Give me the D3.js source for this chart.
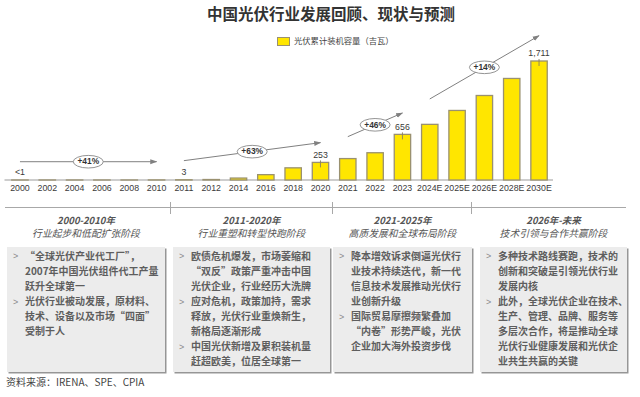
<!DOCTYPE html>
<html>
<head>
<meta charset="utf-8">
<script src="https://cdn.jsdelivr.net/npm/d3@7"></script>
<style>
body { margin:0; background:#fff; }
svg { display:block; font-family: "Liberation Sans", Arial, sans-serif; }
.cjk { font-family: "Noto Sans CJK SC", "Liberation Sans", sans-serif; }
</style>
</head>
<body>
<script>
// data
var years = ["2000","2002","2004","2006","2008","2010","2011","2012","2014","2016","2018","2020","2021","2022","2023","2024E","2025E","2026E","2028E","2030E"];
var capacity = [0.02,0.05,0.07,0.08,0.14,0.86,3,7,28,77,175,253,308,392,656,800,1000,1215,1460,1711];
var valueLabels = {"2000":"<1","2011":"3","2020":"253","2023":"656","2030E":"1,711"};

var growthLabels = ["+41%","+63%","+46%","+14%"];
var growthFrom = ["2000","2011","2021","2024E"];
var growthTo = ["2010","2020","2023","2030E"];
// arrow ends expressed on the value axis
var growthY0 = [263,278,623,1165];
var growthY1 = [263,537,964,2075];

var phaseYears = ["2000-2010年","2011-2020年","2021-2025年","2026年-未来"];
var phaseTitles = ["行业起步和低配扩张阶段","行业重塑和转型快跑阶段","高质发展和全球布局阶段","技术引领与合作共赢阶段"];
var phaseNotes = [
  [["“全球光伏产业代工厂”，","2007年中国光伏组件代工产量","跃升全球第一"],
   ["光伏行业被动发展，原材料、","技术、设备以及市场“四面”","受制于人"]],
  [["欧债危机爆发，市场萎缩和","“双反”政策严重冲击中国","光伏企业，行业经历大洗牌"],
   ["应对危机，政策加持，需求","释放，光伏行业重焕新生，","新格局逐渐形成"],
   ["中国光伏新增及累积装机量","赶超欧美，位居全球第一"]],
  [["降本增效诉求倒逼光伏行","业技术持续迭代，新一代","信息技术发展推动光伏行","业创新升级"],
   ["国际贸易摩擦频繁叠加","“内卷”形势严峻，光伏","企业加大海外投资步伐"]],
  [["多种技术路线赛跑，技术的","创新和突破是引领光伏行业","发展内核"],
   ["此外，全球光伏企业在技术、","生产、管理、品牌、服务等","多层次合作，将是推动全球","光伏行业健康发展和光伏企","业共生共赢的关键"]]
];

var W = 640, H = 397;
var yellow = "#ffe600", barStroke = "#9a9170", grey = "#808080";

var svg = d3.select("body").append("svg").attr("width", W).attr("height", H);

var defs = svg.append("defs");
defs.append("marker").attr("id","arr").attr("viewBox","0 0 10 10")
  .attr("refX",9).attr("refY",5).attr("markerWidth",7).attr("markerHeight",7)
  .attr("orient","auto")
  .append("path").attr("d","M0,1.5 L10,5 L0,8.5 Z").attr("fill",grey);
var sh = defs.append("filter").attr("id","shadow").attr("x","-5%").attr("y","-5%").attr("width","115%").attr("height","115%");
sh.append("feDropShadow").attr("dx",1.5).attr("dy",1.5).attr("stdDeviation",0.6).attr("flood-color","#8a8a8a").attr("flood-opacity",0.9);

// title + legend
svg.append("text").attr("class","cjk").attr("x",331).attr("y",16)
  .attr("text-anchor","middle").attr("dominant-baseline","middle")
  .attr("font-size",15.5).attr("font-weight","bold").attr("fill","#333")
  .text("中国光伏行业发展回顾、现状与预测");
svg.append("rect").attr("x",277.5).attr("y",37.5).attr("width",12).attr("height",8)
  .attr("fill",yellow).attr("stroke",barStroke);
svg.append("text").attr("class","cjk").attr("x",294).attr("y",42)
  .attr("dominant-baseline","middle").attr("font-size",8.3).attr("fill","#444")
  .text("光伏累计装机容量（吉瓦）");

// scales
var x = d3.scaleBand().domain(years).range([6.3, 552.7]).paddingInner(0.4).paddingOuter(0.2);
var y = d3.scaleLinear().domain([0, 1711]).range([180, 61]);

var chart = svg.append("g");

// axis first so the tiny bars sit on top of the baseline
var xAxis = d3.axisBottom(x).tickSize(0).tickPadding(5);
var ax = chart.append("g").attr("transform","translate(0,180)").call(xAxis);
ax.select(".domain").attr("d","M4.5,0H553").attr("stroke","#bdbdbd").attr("stroke-width",1.3);
ax.selectAll("text").attr("font-size",8.8).attr("fill","#3a3a3a")
  .attr("font-family","'Liberation Sans', Arial, sans-serif");

chart.selectAll("rect.bar").data(years).enter().append("rect")
  .attr("class","bar")
  .attr("x", function(d){ return x(d); })
  .attr("width", x.bandwidth())
  .attr("y", function(d,i){ return y(capacity[i]); })
  .attr("height", function(d,i){ return y(0) - y(capacity[i]); })
  .attr("fill", yellow).attr("stroke", barStroke).attr("stroke-width",1.3);

// value labels
var labelled = years.filter(function(d){ return valueLabels[d]; });
labelled.forEach(function(d){
  var i = years.indexOf(d), top = y(capacity[i]), cx = x(d) + x.bandwidth()/2;
  chart.append("text").attr("x",cx).attr("y",top - 7).attr("text-anchor","middle")
    .attr("dominant-baseline","middle").attr("font-size",8.8).attr("fill","#3a3a3a")
    .text(valueLabels[d]);
  if (y(0) - top > 10) {
    chart.append("line").attr("x1",cx).attr("x2",cx).attr("y1",top-2).attr("y2",top+5)
      .attr("stroke","#8a8060").attr("stroke-width",0.9);
  }
});

// growth arrows
growthLabels.forEach(function(lab, i){
  var x0 = x(growthFrom[i]) + x.bandwidth()/2, x1 = x(growthTo[i]) + x.bandwidth()/2;
  var y0 = y(growthY0[i]), y1 = y(growthY1[i]);
  chart.append("line").attr("x1",x0).attr("y1",y0).attr("x2",x1).attr("y2",y1)
    .attr("stroke",grey).attr("stroke-width",1).attr("marker-end","url(#arr)");
  var mx = (x0 + x1)/2, my = (y0 + y1)/2;
  chart.append("ellipse").attr("cx",mx).attr("cy",my).attr("rx",15).attr("ry",6.3)
    .attr("fill","#fff").attr("stroke","#888").attr("stroke-width",0.9);
  chart.append("text").attr("x",mx).attr("y",my+0.5).attr("text-anchor","middle")
    .attr("dominant-baseline","middle").attr("font-size",8.4).attr("font-weight","bold")
    .attr("fill","#333").text(lab);
});

// phase timeline
var boxL = [7, 173, 333, 480], boxR = [165, 330, 472, 627];
var boxTop = 247, boxBottom = 372;
var sep = [170.5, 332.5, 471.5];
svg.append("line").attr("x1",5).attr("x2",626).attr("y1",207.5).attr("y2",207.5)
  .attr("stroke","#a8a8a8").attr("stroke-width",1.2);
svg.selectAll("line.sep").data(sep).enter().append("line").attr("class","sep")
  .attr("x1",function(d){return d;}).attr("x2",function(d){return d;})
  .attr("y1",202).attr("y2",214).attr("stroke","#a8a8a8").attr("stroke-width",1);

phaseYears.forEach(function(py, i){
  var cx = (boxL[i] + boxR[i]) / 2;
  svg.append("text").attr("class","cjk").attr("x",cx).attr("y",221)
    .attr("text-anchor","middle").attr("dominant-baseline","middle")
    .attr("font-size",9.5).attr("font-weight","bold").attr("font-style","italic")
    .attr("fill","#555").text(py);
  svg.append("text").attr("class","cjk").attr("x",cx).attr("y",234)
    .attr("text-anchor","middle").attr("dominant-baseline","middle")
    .attr("font-size",9.8).attr("font-style","italic").attr("fill","#555")
    .text(phaseTitles[i]);

  svg.append("rect").attr("x",boxL[i]).attr("y",boxTop).attr("width",boxR[i]-boxL[i])
    .attr("height",boxBottom-boxTop).attr("fill","#ececec").attr("filter","url(#shadow)");

  var row = 0;
  phaseNotes[i].forEach(function(lines){
    lines.forEach(function(ln, k){
      var ty = 257 + row * 15.1;
      if (k === 0) {
        svg.append("text").attr("x",boxL[i]+6).attr("y",ty).attr("dominant-baseline","middle")
          .attr("font-size",9).attr("fill","#8a8a8a").text(">");
      }
      svg.append("text").attr("class","cjk").attr("x",boxL[i]+18).attr("y",ty)
        .attr("dominant-baseline","middle").attr("font-size",10).attr("font-weight","bold")
        .attr("fill","#5e5e5e").text(ln);
      row++;
    });
  });
});

svg.append("text").attr("class","cjk").attr("x",6).attr("y",383)
  .attr("dominant-baseline","middle").attr("font-size",10).attr("fill","#444")
  .text("资料来源：IRENA、SPE、CPIA");
</script>
</body>
</html>
